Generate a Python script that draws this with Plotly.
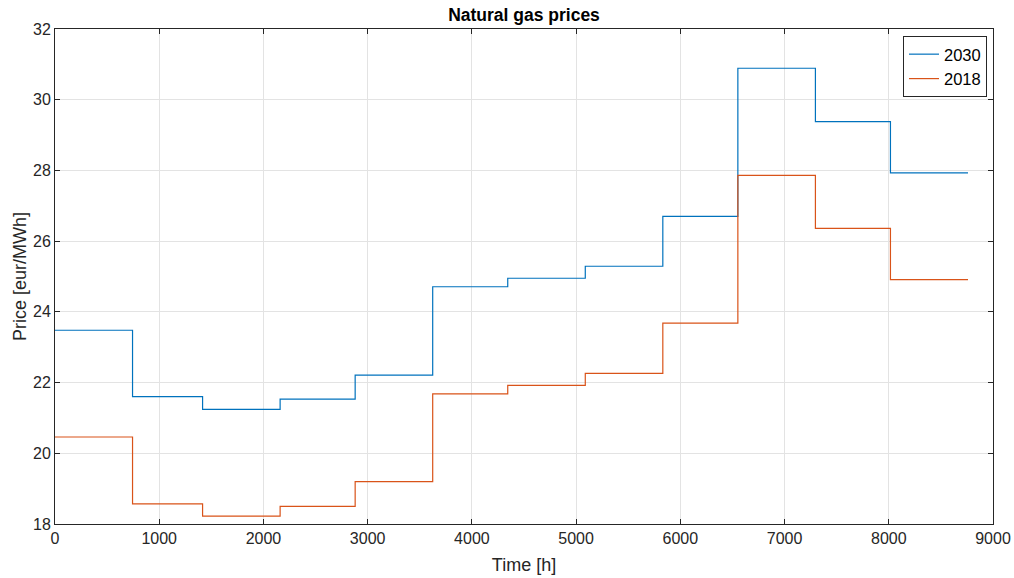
import plotly.graph_objects as go

# Month start hours (plus year end)
hours = [0, 744, 1416, 2160, 2880, 3624, 4344, 5088, 5832, 6552, 7296, 8016, 8760]
price_2030 = [23.48, 21.60, 21.24, 21.53, 22.21, 24.71, 24.95, 25.29, 26.70, 30.89, 29.38, 27.93, 27.93]
price_2018 = [20.46, 18.57, 18.22, 18.50, 19.20, 21.68, 21.92, 22.26, 23.68, 27.86, 26.36, 24.91, 24.91]

x_ticks = [0, 1000, 2000, 3000, 4000, 5000, 6000, 7000, 8000, 9000]
y_ticks = [18, 20, 22, 24, 26, 28, 30, 32]

FONT = "Liberation Sans, Arial, Helvetica, sans-serif"
AX = "#262626"

fig = go.Figure()
fig.add_trace(go.Scatter(x=hours, y=price_2030, mode="lines", name="2030",
                         line=dict(color="#0072BD", width=1.2, shape="hv")))
fig.add_trace(go.Scatter(x=hours, y=price_2018, mode="lines", name="2018",
                         line=dict(color="#D95319", width=1.2, shape="hv")))

axis_common = dict(showline=True, linecolor=AX, linewidth=1, mirror="ticks",
                   ticks="inside", ticklen=5, tickcolor=AX, showgrid=True,
                   gridcolor="#e3e3e3", gridwidth=1, zeroline=False,
                   automargin=False,
                   tickfont=dict(family=FONT, size=16, color=AX))

fig.update_xaxes(range=[0, 9000], tickvals=x_ticks,
                 title=dict(text="Time [h]", font=dict(family=FONT, size=18, color=AX), standoff=12),
                 **axis_common)
fig.update_yaxes(range=[18, 32], tickvals=y_ticks,
                 title=dict(text="Price [eur/MWh]", font=dict(family=FONT, size=18, color=AX), standoff=1),
                 **axis_common)

fig.update_layout(
    width=1014, height=578,
    margin=dict(l=55, r=21, t=29, b=54),
    paper_bgcolor="white", plot_bgcolor="white",
    title=dict(text="<b>Natural gas prices</b>", x=(55 + 993) / 2 / 1014, xanchor="center",
               y=1 - 9 / 578, yanchor="top",
               font=dict(family=FONT, size=17.5, color="black")),
    legend=dict(x=0.9936, y=0.986, xanchor="right", yanchor="top",
                bgcolor="white", bordercolor=AX, borderwidth=1,
                font=dict(family=FONT, size=16.5, color="black"),
                tracegroupgap=0, itemwidth=30),
    showlegend=True,
)

fig.write_html("out.html")
